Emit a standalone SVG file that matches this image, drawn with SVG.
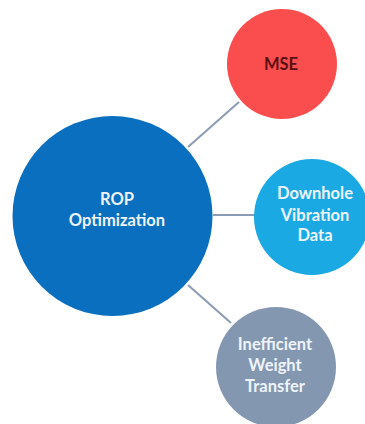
<svg xmlns="http://www.w3.org/2000/svg" width="365" height="424" viewBox="0 0 365 424">
<style>
.lbl{font-family:Lato,"Open Sans","Liberation Sans",sans-serif;font-weight:bold;font-size:16.5px;text-anchor:middle;fill:#eef4fb}
.con{stroke:#8a9bb3;stroke-width:2;fill:none}
</style>
<rect width="365" height="424" fill="#ffffff"/>
<g id="connectors">
<line class="con" x1="188" y1="147" x2="239" y2="102"/>
<line class="con" x1="213" y1="215" x2="256" y2="215"/>
<line class="con" x1="188" y1="285" x2="231" y2="323"/>
</g>
<g id="node-rop">
<circle cx="112.5" cy="216" r="100" fill="#0b6fbf"/>
<text class="lbl" x="117" y="205">ROP</text>
<text class="lbl" x="117" y="226">Optimization</text>
</g>
<g id="node-mse">
<circle cx="282" cy="64" r="55" fill="#fa4e4e"/>
<text class="lbl" x="281" y="70" style="fill:#5c0f12">MSE</text>
</g>
<g id="node-downhole">
<circle cx="312" cy="217" r="58" fill="#1ba9e3"/>
<text class="lbl" x="315" y="199">Downhole</text>
<text class="lbl" x="315" y="221">Vibration</text>
<text class="lbl" x="315" y="241">Data</text>
</g>
<g id="node-inefficient">
<circle cx="276" cy="367" r="60" fill="#8497b0"/>
<text class="lbl" x="275" y="350">Inefficient</text>
<text class="lbl" x="275" y="371">Weight</text>
<text class="lbl" x="275" y="392">Transfer</text>
</g>
</svg>
